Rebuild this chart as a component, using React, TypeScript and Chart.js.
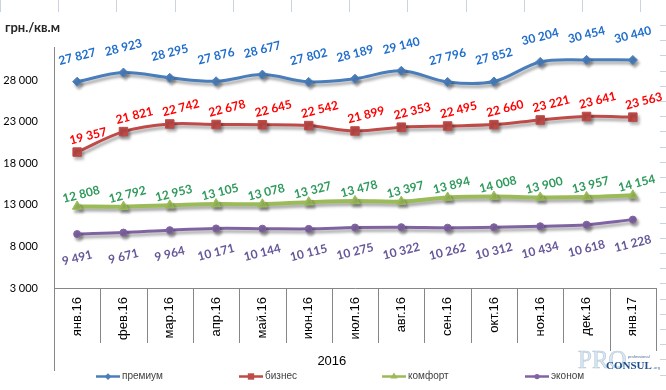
import React, { useEffect, useRef } from 'react';
import { Chart, registerables } from 'chart.js';

Chart.register(...registerables);

const CATEGORIES = ['янв.16', 'фев.16', 'мар.16', 'апр.16', 'май.16', 'июн.16', 'июл.16', 'авг.16', 'сен.16', 'окт.16', 'ноя.16', 'дек.16', 'янв.17'];
const PREMIUM = [27827, 28923, 28295, 27876, 28677, 27802, 28189, 29140, 27796, 27852, 30204, 30454, 30440];
const BUSINESS = [19357, 21821, 22742, 22678, 22645, 22542, 21899, 22353, 22495, 22660, 23221, 23641, 23563];
const COMFORT = [12808, 12792, 12953, 13105, 13078, 13327, 13478, 13397, 13894, 14008, 13900, 13957, 14154];
const ECONOM = [9491, 9671, 9964, 10171, 10144, 10115, 10275, 10322, 10262, 10312, 10434, 10618, 11228];
const SERIES_NAMES = ['премиум', 'бизнес', 'комфорт', 'эконом'];
const Y_TICKS = [3000, 8000, 13000, 18000, 23000, 28000];
const Y_MIN = 3000;
const Y_MAX = 32000;
const UNIT = 'грн./кв.м';
const GROUP_LABEL = '2016';
const GROUP_SIZE = 12;

const fmt = (v: number) => String(Math.round(v)).replace(/\B(?=(\d{3})+(?!\d))/g, ' ');

const STYLES = [
  { color: '#4a7ebb', label: '#1f6dcc', point: 'rectRot', radius: 4.5, width: 3, dx: 0, dy: -25 },
  { color: '#be4b48', label: '#ff0000', point: 'rect', radius: 6, width: 3, dx: 11, dy: -16 },
  { color: '#9bbb59', label: '#2e9a5c', point: 'triangle', radius: 5.5, width: 4, dx: 4, dy: -12 },
  { color: '#8064a2', label: '#66579a', point: 'circle', radius: 3.5, width: 3, dx: 0, dy: 24 },
];

const AXIS_COLOR = '#868686';

const shadowPlugin = {
  id: 'shadowPlugin',
  beforeDatasetDraw(chart: any) {
    const c = chart.ctx;
    c.save();
    c.shadowColor = 'rgba(0,0,0,0.35)';
    c.shadowBlur = 3;
    c.shadowOffsetX = 2;
    c.shadowOffsetY = 3;
  },
  afterDatasetDraw(chart: any) {
    chart.ctx.restore();
  },
};

const labelsPlugin = {
  id: 'labelsPlugin',
  afterDatasetsDraw(chart: any) {
    const ctx = chart.ctx;
    chart.data.datasets.forEach((ds: any, di: number) => {
      const meta = chart.getDatasetMeta(di);
      const st = STYLES[di];
      meta.data.forEach((pt: any, i: number) => {
        ctx.save();
        ctx.translate(pt.x + st.dx, pt.y + st.dy);
        ctx.rotate((-14 * Math.PI) / 180);
        ctx.font = 'bold 12px Lato';
        ctx.fillStyle = st.label;
        ctx.textAlign = 'center';
        ctx.textBaseline = 'middle';
        ctx.fillText(fmt(ds.data[i]), 0, 0);
        ctx.restore();
      });
    });
  },
};

function drawMarker(ctx: CanvasRenderingContext2D, kind: string, x: number, y: number, r: number) {
  ctx.beginPath();
  if (kind === 'rectRot') {
    ctx.moveTo(x - r, y);
    ctx.lineTo(x, y - r);
    ctx.lineTo(x + r, y);
    ctx.lineTo(x, y + r);
    ctx.closePath();
  } else if (kind === 'rect') {
    const s = r * Math.SQRT1_2;
    ctx.rect(x - s, y - s, 2 * s, 2 * s);
  } else if (kind === 'triangle') {
    ctx.moveTo(x, y - r);
    ctx.lineTo(x + r * 0.866, y + r * 0.5);
    ctx.lineTo(x - r * 0.866, y + r * 0.5);
    ctx.closePath();
  } else {
    ctx.arc(x, y, r, 0, Math.PI * 2);
  }
  ctx.fill();
}

const decorPlugin = {
  id: 'decorPlugin',
  afterDraw(chart: any) {
    const ctx = chart.ctx as CanvasRenderingContext2D;
    const area = chart.chartArea;
    const xs = chart.scales.x;
    const n = CATEGORIES.length;
    const step = xs.getPixelForValue(1) - xs.getPixelForValue(0);
    ctx.save();

    // spreadsheet grid remnants
    ctx.strokeStyle = '#c9d3e2';
    ctx.lineWidth = 1;
    for (let k = 0; k < 12; k++) {
      const x = Math.round(k * 58.2) + 0.5;
      ctx.beginPath();
      ctx.moveTo(x, 0);
      ctx.lineTo(x, 12);
      ctx.stroke();
    }
    for (let y = 25; y < 390; y += 15.2) {
      ctx.beginPath();
      ctx.moveTo(660, Math.round(y) + 0.5);
      ctx.lineTo(666, Math.round(y) + 0.5);
      ctx.stroke();
    }

    // title
    ctx.font = 'bold 13px Lato';
    ctx.fillStyle = '#262626';
    ctx.textAlign = 'left';
    ctx.textBaseline = 'middle';
    ctx.fillText(UNIT, 5, 28);

    // category separators
    ctx.strokeStyle = AXIS_COLOR;
    ctx.lineWidth = 1;
    for (let i = 0; i <= n; i++) {
      const x = Math.round(xs.getPixelForValue(0) - step / 2 + i * step) + 0.5;
      const long = i >= GROUP_SIZE;
      ctx.beginPath();
      ctx.moveTo(x, area.bottom);
      ctx.lineTo(x, area.bottom + (i === 0 ? 83 : long ? 63 : 55));
      ctx.stroke();
    }

    // group label
    const gx0 = xs.getPixelForValue(0) - step / 2;
    const gx1 = gx0 + GROUP_SIZE * step;
    ctx.font = '13px "Liberation Sans"';
    ctx.fillStyle = '#000';
    ctx.textAlign = 'center';
    ctx.textBaseline = 'middle';
    ctx.fillText(GROUP_LABEL, (gx0 + gx1) / 2, area.bottom + 73);

    // legend
    ctx.font = '10px "Liberation Sans"';
    ctx.textAlign = 'left';
    SERIES_NAMES.forEach((name, i) => {
      const st = STYLES[i];
      const lx = 96 + i * 143;
      const ly = 376.5;
      ctx.strokeStyle = st.color;
      ctx.fillStyle = st.color;
      ctx.lineWidth = 2.5;
      ctx.beginPath();
      ctx.moveTo(lx, ly);
      ctx.lineTo(lx + 24, ly);
      ctx.stroke();
      drawMarker(ctx, st.point, lx + 12, ly, st.radius * 0.75);
      ctx.fillStyle = '#404040';
      ctx.fillText(name, lx + 26, ly);
    });

    // watermark
    ctx.font = '25px "Liberation Serif"';
    ctx.fillStyle = 'rgba(215,228,238,0.9)';
    ctx.strokeStyle = 'rgba(165,190,210,0.8)';
    ctx.lineWidth = 0.6;
    ctx.textAlign = 'left';
    ctx.textBaseline = 'alphabetic';
    ctx.fillText('PRO', 578, 368);
    ctx.strokeText('PRO', 578, 368);
    ctx.font = 'bold 11px "Liberation Serif"';
    ctx.fillStyle = '#1f4e8c';
    ctx.fillText('CONSUL', 606, 369);
    ctx.font = '4px "Liberation Sans"';
    ctx.fillStyle = '#4a6f9c';
    ctx.fillText('professional', 628, 358);
    ctx.fillText('.org', 653, 369);

    ctx.restore();
  },
};

function App() {
  const ref = useRef<HTMLCanvasElement | null>(null);

  useEffect(() => {
    if (!ref.current) return;
    const series = [PREMIUM, BUSINESS, COMFORT, ECONOM];
    const chart = new Chart(ref.current, {
      type: 'line',
      data: {
        labels: CATEGORIES,
        datasets: series.map((d, i) => ({
          label: SERIES_NAMES[i],
          data: d,
          borderColor: STYLES[i].color,
          backgroundColor: STYLES[i].color,
          pointBackgroundColor: STYLES[i].color,
          pointBorderColor: STYLES[i].color,
          pointStyle: STYLES[i].point as any,
          pointRadius: STYLES[i].radius,
          pointBorderWidth: 1,
          borderWidth: STYLES[i].width,
          tension: 0.35,
          fill: false,
        })),
      },
      options: {
        responsive: false,
        animation: false,
        layout: { padding: { top: 47, right: 10, left: 0, bottom: 0 } },
        plugins: {
          legend: { display: false },
          title: { display: false },
          tooltip: { enabled: false },
        },
        scales: {
          x: {
            offset: true,
            grid: { display: false, offset: true, drawTicks: false },
            border: { display: true, color: AXIS_COLOR, width: 1 },
            ticks: {
              minRotation: 90,
              maxRotation: 90,
              padding: 9,
              color: '#000',
              font: { family: '"Liberation Sans"', size: 13 },
              autoSkip: false,
            },
            afterFit(scale: any) {
              scale.height = 102;
            },
          },
          y: {
            min: Y_MIN,
            max: Y_MAX,
            grid: { display: false, drawTicks: false },
            border: { display: true, color: AXIS_COLOR, width: 1 },
            ticks: {
              padding: 16,
              color: '#000',
              font: { family: 'Lato', size: 11 },
              callback: (v: any) => fmt(Number(v)),
            },
            afterBuildTicks(scale: any) {
              scale.ticks = Y_TICKS.map((v) => ({ value: v }));
            },
            afterFit(scale: any) {
              scale.width = 54;
            },
          },
        },
      },
      plugins: [shadowPlugin, labelsPlugin, decorPlugin],
    });
    return () => chart.destroy();
  }, []);

  return (
    <div style={{ position: 'absolute', left: 0, top: 0, width: 666, height: 390, background: '#fff' }}>
      <canvas ref={ref} width={666} height={390} />
    </div>
  );
}

export default App;
